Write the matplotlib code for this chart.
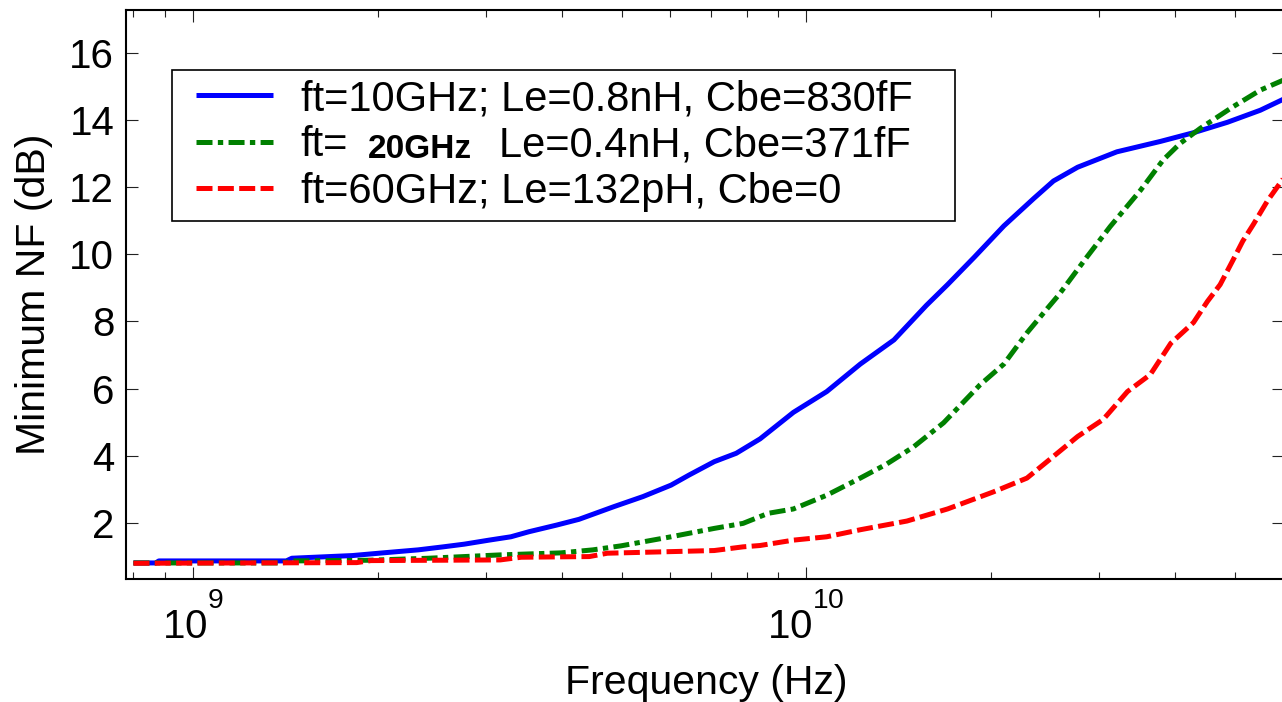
import matplotlib
matplotlib.use('Agg')
import matplotlib.pyplot as plt
from matplotlib.ticker import LogLocator, LogFormatterSciNotation, MultipleLocator, NullFormatter
from matplotlib.patches import Rectangle

try:
    import matplotlib._mathtext as _mt
    _mt.FontConstantsBase.sup1 = 1.38
except Exception:
    pass

plt.rcParams['font.family'] = ['Liberation Sans', 'DejaVu Sans']
plt.rcParams['mathtext.fontset'] = 'custom'
plt.rcParams['mathtext.rm'] = 'Liberation Sans'
plt.rcParams['mathtext.it'] = 'Liberation Sans:italic'
plt.rcParams['mathtext.bf'] = 'Liberation Sans:bold'
plt.rcParams['mathtext.default'] = 'regular'

# ---- data (frequency in GHz, minimum NF in dB) ----
blue_f = [0.80, 0.87, 0.88, 1.42, 1.45, 1.82, 2.04, 2.33, 2.56, 2.77, 3.04, 3.30, 3.53, 3.92,
          4.26, 4.86, 5.42, 6.02, 6.44, 7.08, 7.69, 8.41, 9.53, 10.8, 12.25, 13.9, 15.7, 17.0,
          18.8, 21.0, 23.5, 25.3, 27.7, 32.1, 37.8, 42.8, 48.6, 55.0, 60.0]
blue_nf = [0.80, 0.80, 0.86, 0.86, 0.94, 1.02, 1.10, 1.19, 1.28, 1.36, 1.48, 1.58, 1.73, 1.93,
           2.10, 2.48, 2.78, 3.12, 3.42, 3.82, 4.07, 4.50, 5.29, 5.91, 6.73, 7.45, 8.48, 9.10,
           9.92, 10.85, 11.67, 12.19, 12.60, 13.06, 13.37, 13.63, 13.94, 14.30, 14.63]

green_f = [0.80, 1.40, 1.45, 1.93, 2.42, 3.17, 3.98, 4.49, 4.99, 6.02, 7.08, 7.89, 8.67, 9.53,
           10.8, 12.25, 13.5, 14.96, 16.75, 19.2, 21.0, 22.9, 24.7, 25.8, 28.7, 31.3, 35.1,
           38.2, 40.7, 43.9, 49.7, 55.0, 60.0]
green_nf = [0.80, 0.80, 0.86, 0.88, 0.94, 1.04, 1.10, 1.19, 1.31, 1.58, 1.83, 1.98, 2.28, 2.41,
            2.82, 3.33, 3.74, 4.26, 4.98, 6.11, 6.73, 7.66, 8.38, 8.79, 9.93, 10.83, 11.92,
            12.82, 13.31, 13.76, 14.41, 14.90, 15.20]

red_f = [0.80, 1.85, 1.95, 3.17, 3.43, 4.43, 4.74, 7.08, 7.89, 8.41, 9.53, 10.8, 12.25, 14.6,
         17.0, 20.2, 22.9, 25.0, 27.7, 30.5, 33.4, 36.4, 39.3, 42.8, 45.1, 47.3, 49.7, 51.5,
         53.6, 56.5, 60.0]
red_nf = [0.79, 0.81, 0.87, 0.89, 0.97, 0.99, 1.09, 1.17, 1.28, 1.32, 1.48, 1.58, 1.79, 2.05,
          2.41, 2.92, 3.33, 3.90, 4.57, 5.08, 5.91, 6.42, 7.35, 7.97, 8.60, 9.10, 9.85, 10.40,
          10.90, 11.60, 12.27]

labels = ["ft=10GHz; Le=0.8nH, Cbe=830fF",
          "ft=",
          "ft=60GHz; Le=132pH, Cbe=0"]
label2_bold = "20GHz"
label2_rest = "Le=0.4nH, Cbe=371fF"

W, H = 1282, 702
fig = plt.figure(figsize=(W / 100, H / 100), dpi=100)
ax = fig.add_axes([126 / W, (H - 578.7) / H, 1157.5 / W, 568.4 / H])

lw = 3.6
l1, = ax.plot([f * 1e9 for f in blue_f], blue_nf, color='#0000ff', lw=lw, solid_capstyle='butt')
l2, = ax.plot([f * 1e9 for f in green_f], green_nf, color='#008000', lw=lw,
              linestyle=(0, (3.2, 1.07, 1.07, 1.07)), dash_capstyle='butt')
l3, = ax.plot([f * 1e9 for f in red_f], red_nf, color='#ff0000', lw=lw,
              linestyle=(0, (3.2, 1.07)), dash_capstyle='butt')

ax.set_xscale('log')
ax.set_xlim(7.78e8, 6.0e10)
ax.set_ylim(0.33, 17.28)
ax.yaxis.set_major_locator(MultipleLocator(2))
ax.xaxis.set_major_locator(LogLocator(base=10))
ax.xaxis.set_major_formatter(LogFormatterSciNotation())
ax.xaxis.set_minor_locator(LogLocator(base=10, subs=range(2, 10)))
ax.xaxis.set_minor_formatter(NullFormatter())

ax.tick_params(which='both', direction='in', top=True, right=True, width=0.8, color='#222222')
ax.tick_params(which='major', length=8.4)
ax.tick_params(which='minor', length=5.2)
ax.tick_params(axis='x', which='major', labelsize=29, pad=10)
ax.tick_params(axis='y', which='major', labelsize=29, pad=8.5)
for s in ax.spines.values():
    s.set_linewidth(1.5)

ax.set_xlabel('Frequency (Hz)', fontsize=29.5)
ax.xaxis.set_label_coords(0.5015, -0.150)
ax.set_ylabel('Minimum NF (dB)', fontsize=29.5)
ax.yaxis.set_label_coords(-0.063, 0.5)

leg = ax.legend([l1, l2, l3], labels, loc='upper left',
                bbox_to_anchor=(196 / W, (H - 79) / H), bbox_transform=fig.transFigure,
                frameon=False, borderpad=0, borderaxespad=0, handlelength=1.85,
                handletextpad=0.66, labelspacing=0.15, fontsize=30)
rect = Rectangle((172 / W, (H - 221) / H), (955 - 172) / W, (221 - 70) / H,
                 transform=fig.transFigure, fill=False, lw=1.2, ec='black', zorder=5)
fig.add_artist(rect)

fig.canvas.draw()
t2 = leg.get_texts()[1]
ax.annotate(label2_bold, xy=(1, 0), xycoords=t2, xytext=(14.4, 0), textcoords='offset points',
            fontsize=24, fontweight='bold', va='bottom', ha='left', zorder=7,
            annotation_clip=False)
ax.annotate(label2_rest, xy=(1, 0), xycoords=t2, xytext=(108.5, 0), textcoords='offset points',
            fontsize=30, va='bottom', ha='left', zorder=7, annotation_clip=False)

fig.savefig('out.png', dpi=100)
